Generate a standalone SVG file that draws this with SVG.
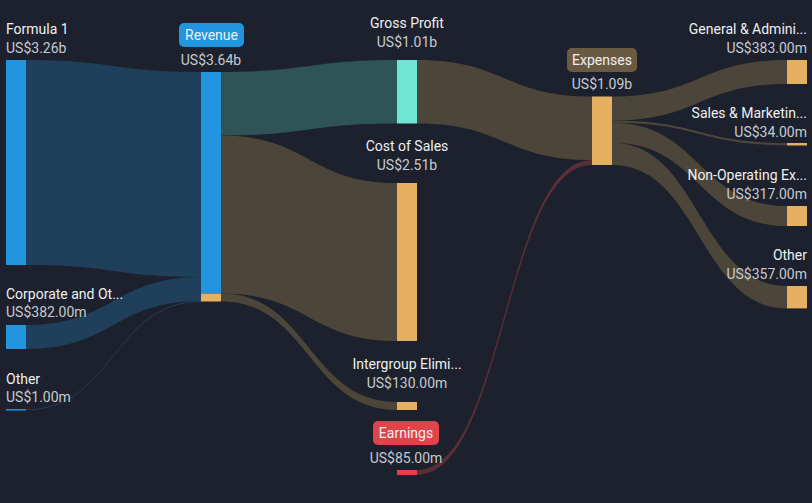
<svg xmlns="http://www.w3.org/2000/svg" width="812" height="503" viewBox="0 0 812 503">
<style>
text{font-family:Roboto,"Liberation Sans",sans-serif;font-size:14px}
.l{fill:#eef0f2}
.v{fill:#c6cad0}
.m{text-anchor:middle}
.e{text-anchor:end}
.fb{fill:#1f3f5a}
.ft{fill:#2e5457}
.fw{fill:#4c4539}
.fr{fill:#5a2e36}
.nb{fill:#2394df}
.no{fill:#e5b062}
</style>
<rect width="812" height="503" fill="#1c212d"/>
<g id="connectors">
<path class="fb" d="M26,60 C113.5,60 113.5,72 201,72 L201,277 C113.5,277 113.5,265 26,265 Z"/>
<path class="fb" d="M26,325 C113.5,325 113.5,277 201,277 L201,301 C113.5,301 113.5,349 26,349 Z"/>
<path class="fb" d="M26,409.2 C113.5,409.2 113.5,301 201,301 L201,302 C113.5,302 113.5,410.2 26,410.2 Z"/>
<path class="ft" d="M221,72 C309,72 309,60 397,60 L397,123.5 C309,123.5 309,135.5 221,135.5 Z"/>
<path class="fw" d="M221,135.5 C309,135.5 309,183 397,183 L397,341 C309,341 309,293.5 221,293.5 Z"/>
<path class="fw" d="M221,293.5 C309,293.5 309,402 397,402 L397,410 C309,410 309,301.5 221,301.5 Z"/>
<path class="fw" d="M417,60 C504.5,60 504.5,96.5 592,96.5 L592,160 C504.5,160 504.5,123.5 417,123.5 Z"/>
<path class="fr" d="M417,470 C504.5,470 504.5,160 592,160 L592,165 C504.5,165 504.5,475 417,475 Z"/>
<path class="fw" d="M612,96.5 C699.5,96.5 699.5,60 787,60 L787,84 C699.5,84 699.5,120.5 612,120.5 Z"/>
<path class="fw" d="M612,120.5 C699.5,120.5 699.5,143 787,143 L787,145.2 C699.5,145.2 699.5,122.7 612,122.7 Z"/>
<path class="fw" d="M612,122.7 C699.5,122.7 699.5,206 787,206 L787,226 C699.5,226 699.5,142.7 612,142.7 Z"/>
<path class="fw" d="M612,142.7 C699.5,142.7 699.5,286 787,286 L787,308.4 C699.5,308.4 699.5,165 612,165 Z"/>
</g>
<g id="formula1">
<rect class="nb" x="6" y="60" width="20" height="205"/>
<text class="l" x="6" y="34">Formula 1</text>
<text class="v" x="6" y="53">US$3.26b</text>
</g>
<g id="corporate">
<rect class="nb" x="6" y="325" width="20" height="24"/>
<text class="l" x="6" y="299">Corporate and Ot...</text>
<text class="v" x="6" y="317">US$382.00m</text>
</g>
<g id="other-left">
<rect class="nb" x="6" y="409" width="20" height="1.5"/>
<text class="l" x="6" y="384">Other</text>
<text class="v" x="6" y="402">US$1.00m</text>
</g>
<g id="revenue">
<rect class="nb" x="201" y="72" width="20" height="221.5"/>
<rect class="no" x="201" y="293.5" width="20" height="8"/>
<rect x="179" y="23" width="65" height="24" rx="5" fill="#2394df"/>
<text class="l m" x="211.5" y="40" fill="#fff">Revenue</text>
<text class="v m" x="211" y="65">US$3.64b</text>
</g>
<g id="gross-profit">
<rect x="397" y="60" width="20" height="63.5" fill="#6ee6d3"/>
<text class="l m" x="407" y="28">Gross Profit</text>
<text class="v m" x="407" y="47">US$1.01b</text>
</g>
<g id="cost-of-sales">
<rect class="no" x="397" y="183" width="20" height="158"/>
<text class="l m" x="407" y="151">Cost of Sales</text>
<text class="v m" x="407" y="170">US$2.51b</text>
</g>
<g id="intergroup">
<rect class="no" x="397" y="402" width="20" height="8"/>
<text class="l m" x="407" y="369">Intergroup Elimi...</text>
<text class="v m" x="407" y="388">US$130.00m</text>
</g>
<g id="earnings">
<rect x="397" y="470" width="20" height="5" fill="#e2434b"/>
<rect x="373" y="421" width="66" height="24" rx="5" fill="#e2434b"/>
<text class="l m" x="406" y="438">Earnings</text>
<text class="v m" x="406" y="463">US$85.00m</text>
</g>
<g id="expenses">
<rect class="no" x="592" y="96.5" width="20" height="68.5"/>
<rect x="567" y="48" width="70" height="24" rx="5" fill="#6b5a42"/>
<text class="l m" x="602" y="65">Expenses</text>
<text class="v m" x="602" y="89">US$1.09b</text>
</g>
<g id="general-admin">
<rect class="no" x="787" y="60" width="20" height="24"/>
<text class="l e" x="807" y="34">General &amp; Admini...</text>
<text class="v e" x="807" y="53">US$383.00m</text>
</g>
<g id="sales-marketing">
<rect class="no" x="787" y="143" width="20" height="2.5"/>
<text class="l e" x="807" y="118">Sales &amp; Marketin...</text>
<text class="v e" x="807" y="137">US$34.00m</text>
</g>
<g id="non-operating">
<rect class="no" x="787" y="206" width="20" height="20"/>
<text class="l e" x="807" y="180">Non-Operating Ex...</text>
<text class="v e" x="807" y="199">US$317.00m</text>
</g>
<g id="other-right">
<rect class="no" x="787" y="286" width="20" height="22.4"/>
<text class="l e" x="807" y="260">Other</text>
<text class="v e" x="807" y="279">US$357.00m</text>
</g>
</svg>
